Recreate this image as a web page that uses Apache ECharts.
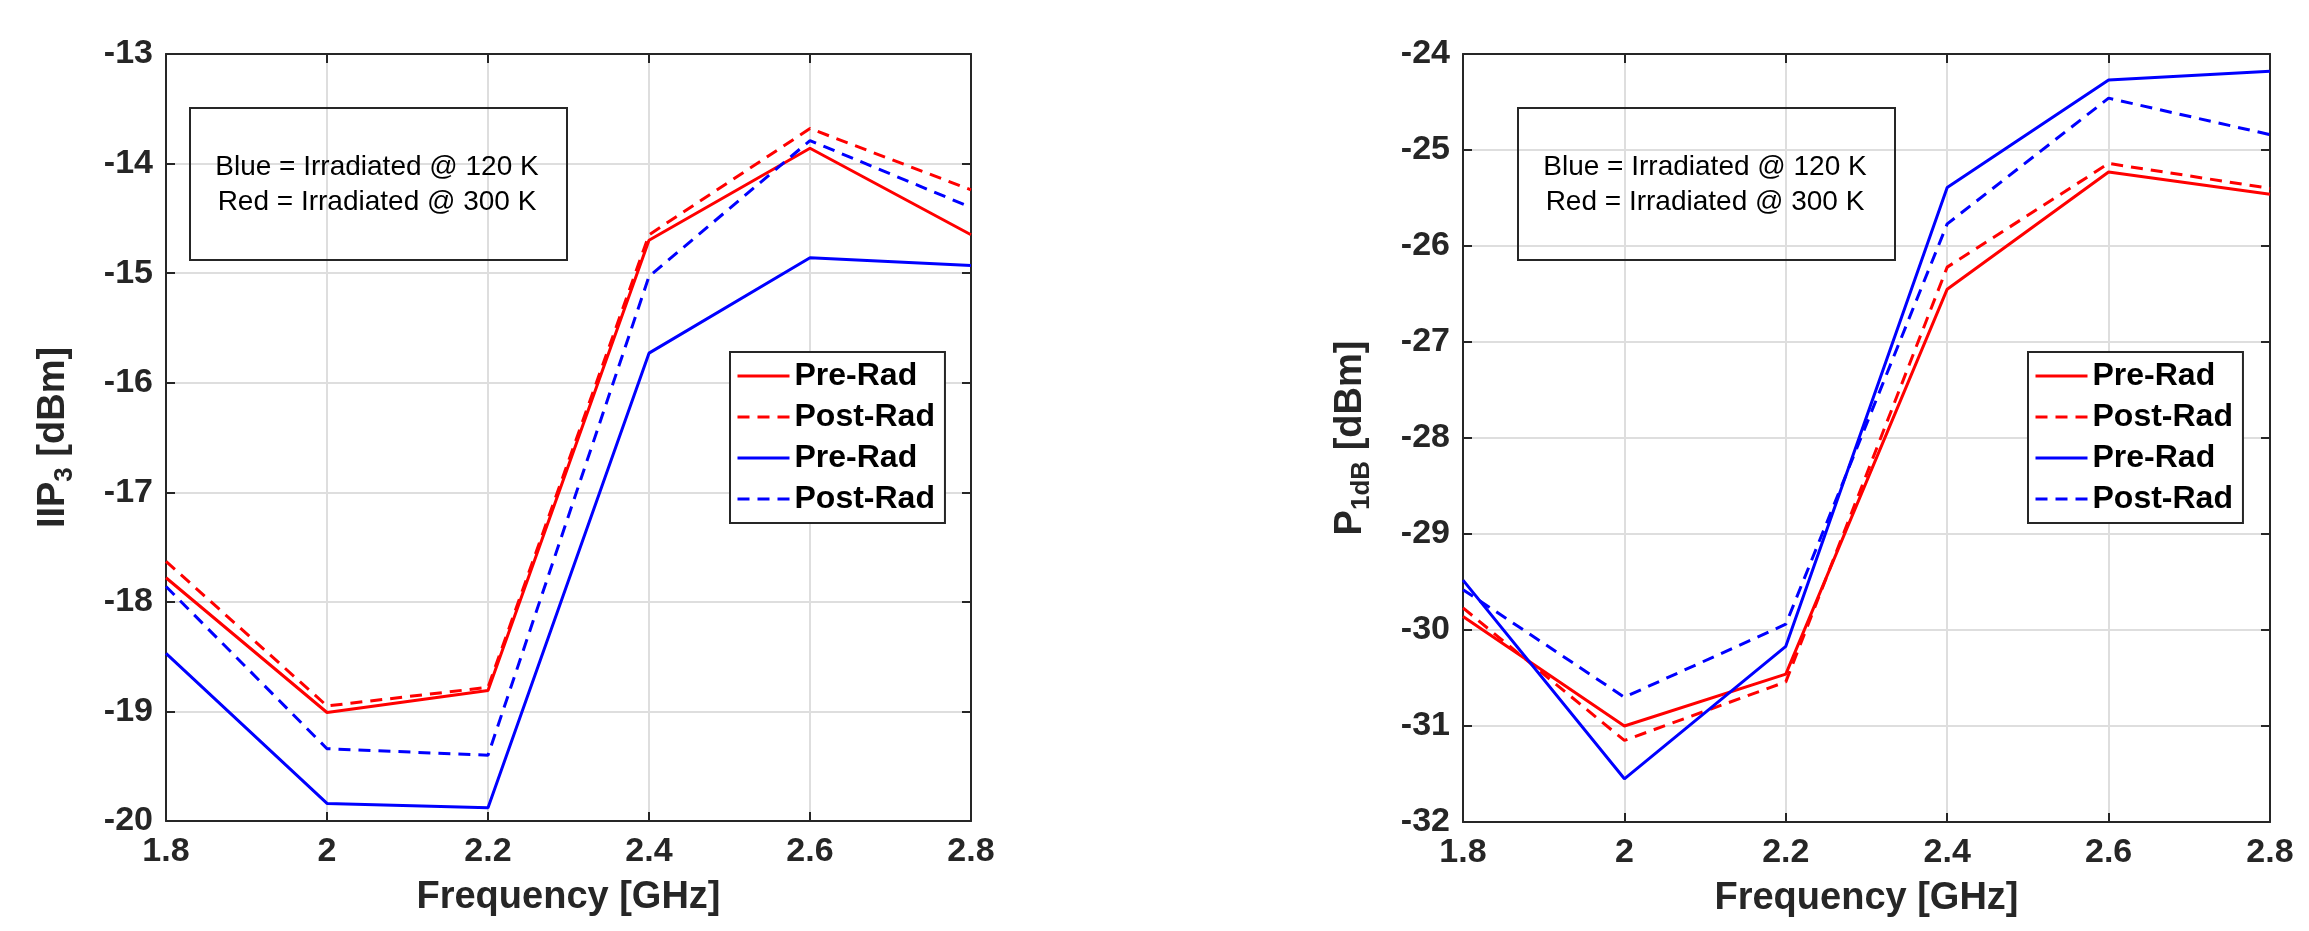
<!DOCTYPE html>
<html>
<head>
<meta charset="utf-8">
<title>IIP3 / P1dB vs frequency</title>
<script src="https://cdn.jsdelivr.net/npm/echarts@6/dist/echarts.min.js"></script>
<style>
  html, body { margin: 0; padding: 0; background: #fff; }
  #chart { width: 2309px; height: 931px; }
</style>
</head>
<body>
<div id="chart"></div>
<script>
// frequency points (GHz)
const freqs = ['1.8', '2', '2.2', '2.4', '2.6', '2.8']

// IIP3 [dBm]
const iip3Pre300 = [-17.78, -19.01, -18.81, -14.70, -13.86, -14.65]
const iip3Post300 = [-17.63, -18.95, -18.78, -14.65, -13.68, -14.24]
const iip3Pre120 = [-18.47, -19.84, -19.88, -15.73, -14.86, -14.93]
const iip3Post120 = [-17.86, -19.34, -19.40, -15.03, -13.79, -14.40]

// P1dB [dBm]
const p1dbPre300 = [-29.86, -31.00, -30.46, -26.45, -25.23, -25.46]
const p1dbPost300 = [-29.77, -31.15, -30.54, -26.22, -25.14, -25.40]
const p1dbPre120 = [-29.48, -31.55, -30.17, -25.39, -24.27, -24.18]
const p1dbPost120 = [-29.58, -30.70, -29.94, -25.77, -24.46, -24.84]

const FONT = '"Liberation Sans", Arial, sans-serif'
const AXIS_COLOR = '#262626'
const RED = '#ff0000'
const BLUE = '#0000ff'

const chart = echarts.init(document.getElementById('chart'))

const axisLine = { show: true, onZero: false, lineStyle: { color: AXIS_COLOR, width: 2 } }
const axisTick = { show: true, inside: true, length: 9, lineStyle: { color: AXIS_COLOR, width: 2 } }
const splitLine = { show: true, lineStyle: { color: '#dedede', width: 2 } }
const tickLabel = { color: '#262626', fontSize: 34, fontWeight: 'bold', fontFamily: FONT }

function xAxes(gridIndex) {
  return [
    {
      type: 'category', gridIndex, data: freqs, boundaryGap: false,
      axisLine, axisTick: { ...axisTick, alignWithLabel: true }, splitLine,
      axisLabel: { ...tickLabel, margin: 14 },
      name: 'Frequency [GHz]', nameLocation: 'middle', nameGap: 58,
      nameTextStyle: { color: '#262626', fontSize: 38, fontWeight: 'bold', fontFamily: FONT },
    },
    {
      // mirrored top axis (box on)
      type: 'category', gridIndex, data: freqs, boundaryGap: false, position: 'top',
      axisLine, axisTick, splitLine: { show: false }, axisLabel: { show: false },
    },
  ]
}

function yAxes(gridIndex, min, max, name, sub, suffix) {
  return [
    {
      type: 'value', gridIndex, min, max, interval: 1,
      axisLine, axisTick, splitLine,
      axisLabel: { ...tickLabel, margin: 13 },
      name: `{m|${name}}{s|${sub}}{m|${suffix}}`, nameLocation: 'middle', nameGap: 88,
      nameTextStyle: {
        rich: {
          m: { color: '#262626', fontSize: 38, fontWeight: 'bold', fontFamily: FONT },
          s: { color: '#262626', fontSize: 26, fontWeight: 'bold', fontFamily: FONT, padding: [22, 0, 0, 0] },
        },
      },
    },
    {
      // mirrored right axis
      type: 'value', gridIndex, min, max, interval: 1, position: 'right',
      axisLine, axisTick, splitLine: { show: false }, axisLabel: { show: false },
    },
  ]
}

function line(name, data, color, dashed, axisIdx) {
  return {
    type: 'line', name, data,
    xAxisIndex: axisIdx, yAxisIndex: axisIdx,
    symbol: 'none', animation: false,
    lineStyle: { color, width: 3, type: dashed ? [12, 8] : 'solid' },
    itemStyle: { color },
  }
}

function legend(left, names) {
  return {
    left, top: 352, orient: 'vertical',
    data: names,
    formatter: (n) => n.split('|')[0],
    padding: [8, 10, 8, 6],
    itemWidth: 52, itemHeight: 20, itemGap: 9,
    // hide the marker that ECharts puts on line icons, keep the line
    itemStyle: { opacity: 0 },
    lineStyle: { width: 3 },
    backgroundColor: '#fff', borderColor: AXIS_COLOR, borderWidth: 2, borderRadius: 0,
    textStyle: { color: '#000', fontSize: 32, fontWeight: 'bold', fontFamily: FONT, padding: [0, 0, 0, 0] },
    selectedMode: false,
  }
}

function noteBox(x, y) {
  return [
    {
      type: 'rect', left: x, top: y, z: 50,
      shape: { width: 377, height: 152 },
      style: { fill: 'transparent', stroke: AXIS_COLOR, lineWidth: 2 },
    },
    {
      type: 'text', z: 51,
      x: x + 188, y: y + 78,
      style: {
        text: 'Blue = Irradiated @ 120 K\nRed = Irradiated @ 300 K',
        fill: '#000', font: `28px ${FONT}`, lineHeight: 35,
        textAlign: 'center', textVerticalAlign: 'middle',
      },
    },
  ]
}

const leftNames = ['Pre-Rad|300|a', 'Post-Rad|300|a', 'Pre-Rad|120|a', 'Post-Rad|120|a']
const rightNames = ['Pre-Rad|300|b', 'Post-Rad|300|b', 'Pre-Rad|120|b', 'Post-Rad|120|b']

chart.setOption({
  backgroundColor: '#fff',
  animation: false,
  grid: [
    { left: 166, top: 54, width: 805, height: 767 },
    { left: 1463, top: 54, width: 807, height: 768 },
  ],
  xAxis: [...xAxes(0), ...xAxes(1)],
  yAxis: [
    ...yAxes(0, -20, -13, 'IIP', '3', ' [dBm]'),
    ...yAxes(1, -32, -24, 'P', '1dB', ' [dBm]'),
  ],
  legend: [legend(730, leftNames), legend(2028, rightNames)],
  series: [
    line(leftNames[0], iip3Pre300, RED, false, 0),
    line(leftNames[1], iip3Post300, RED, true, 0),
    line(leftNames[2], iip3Pre120, BLUE, false, 0),
    line(leftNames[3], iip3Post120, BLUE, true, 0),
    line(rightNames[0], p1dbPre300, RED, false, 2),
    line(rightNames[1], p1dbPost300, RED, true, 2),
    line(rightNames[2], p1dbPre120, BLUE, false, 2),
    line(rightNames[3], p1dbPost120, BLUE, true, 2),
  ],
  graphic: [...noteBox(189, 107), ...noteBox(1517, 107)],
})
</script>
</body>
</html>
